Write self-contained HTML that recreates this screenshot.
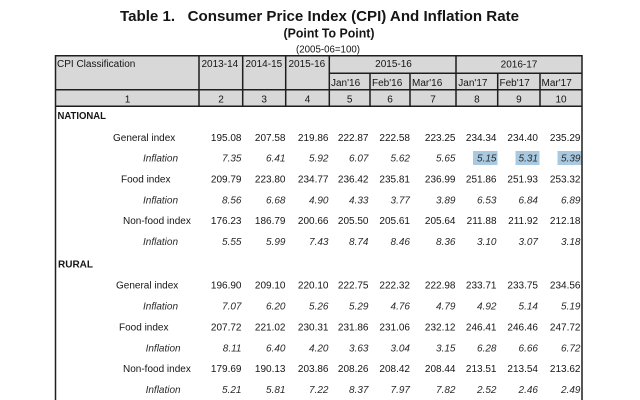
<!DOCTYPE html>
<html>
<head>
<meta charset="utf-8">
<style>
html,body{margin:0;padding:0;background:#fff;}
svg{display:block;}
text{font-family:"Liberation Sans",Arial,sans-serif;fill:#151515;}
.n{font-size:10px;text-anchor:end;}
.i{font-size:10px;text-anchor:end;font-style:italic;fill:#2a2a2a;}
.l{font-size:10px;}
.li{font-size:10px;font-style:italic;fill:#2a2a2a;}
.h{font-size:10px;}
.hc{font-size:10px;text-anchor:middle;}
.b{font-size:10px;font-weight:bold;}
</style>
</head>
<body>
<svg width="640" height="400" viewBox="0 0 640 400" xmlns="http://www.w3.org/2000/svg">
<rect x="0" y="0" width="640" height="400" fill="#fff"/>
<!-- Titles -->
<text x="120" y="21" style="font-size:15px;font-weight:bold;" xml:space="preserve" textLength="399" lengthAdjust="spacingAndGlyphs">Table 1.   Consumer Price Index (CPI) And Inflation Rate</text>
<text x="329" y="37.5" style="font-size:12.5px;font-weight:bold;text-anchor:middle;" textLength="91" lengthAdjust="spacingAndGlyphs">(Point To Point)</text>
<text x="328" y="52.5" style="font-size:10px;text-anchor:middle;" textLength="64" lengthAdjust="spacingAndGlyphs">(2005-06=100)</text>

<!-- Header fill -->
<rect x="55.5" y="55.7" width="526.5" height="50.6" fill="#d8d8d8"/>

<!-- Highlights -->
<rect x="473" y="151" width="24.5" height="14" fill="#a9c9e1"/>
<rect x="515.5" y="151" width="24" height="14" fill="#a9c9e1"/>
<rect x="557.5" y="151" width="24" height="14" fill="#a9c9e1"/>

<!-- Lines -->
<g stroke="#1e1e1e" stroke-width="1.5" fill="none">
<line x1="55.5" y1="55.7" x2="582" y2="55.7"/>
<line x1="329.3" y1="73.3" x2="582" y2="73.3"/>
<line x1="55.5" y1="89.7" x2="582" y2="89.7"/>
<line x1="55.5" y1="106.3" x2="582" y2="106.3"/>
<line x1="55.5" y1="55" x2="55.5" y2="400"/>
<line x1="582" y1="55" x2="582" y2="400"/>
<line x1="199" y1="55.7" x2="199" y2="106.3"/>
<line x1="242.7" y1="55.7" x2="242.7" y2="106.3"/>
<line x1="285.7" y1="55.7" x2="285.7" y2="106.3"/>
<line x1="329.3" y1="55.7" x2="329.3" y2="106.3"/>
<line x1="456" y1="55.7" x2="456" y2="106.3"/>
<line x1="370" y1="73.3" x2="370" y2="106.3"/>
<line x1="410" y1="73.3" x2="410" y2="106.3"/>
<line x1="497.7" y1="73.3" x2="497.7" y2="106.3"/>
<line x1="540" y1="73.3" x2="540" y2="106.3"/>
</g>

<!-- Header text -->
<text class="h" x="57" y="67">CPI Classification</text>
<text class="h" x="201.5" y="67">2013-14</text>
<text class="h" x="245.5" y="67">2014-15</text>
<text class="h" x="288.5" y="67">2015-16</text>
<text class="hc" x="393.5" y="67">2015-16</text>
<text class="hc" x="519" y="67.5">2016-17</text>
<text class="h" x="331" y="86">Jan'16</text>
<text class="h" x="372" y="86">Feb'16</text>
<text class="h" x="412" y="86">Mar'16</text>
<text class="h" x="458.3" y="86">Jan'17</text>
<text class="h" x="499.5" y="86">Feb'17</text>
<text class="h" x="541.5" y="86">Mar'17</text>
<text class="hc" x="127.5" y="102.3">1</text>
<text class="hc" x="221" y="102.3">2</text>
<text class="hc" x="264.2" y="102.3">3</text>
<text class="hc" x="307.5" y="102.3">4</text>
<text class="hc" x="349.7" y="102.3">5</text>
<text class="hc" x="390" y="102.3">6</text>
<text class="hc" x="433" y="102.3">7</text>
<text class="hc" x="476.9" y="102.3">8</text>
<text class="hc" x="518.9" y="102.3">9</text>
<text class="hc" x="561" y="102.3">10</text>

<!-- NATIONAL -->
<text class="b" x="57.5" y="118.8" textLength="48.5" lengthAdjust="spacingAndGlyphs">NATIONAL</text>

<text class="l" x="113" y="140.8">General index</text>
<text class="n" x="241.5" y="140.8">195.08</text><text class="n" x="285.5" y="140.8">207.58</text><text class="n" x="328.5" y="140.8">219.86</text><text class="n" x="368.5" y="140.8">222.87</text><text class="n" x="410" y="140.8">222.58</text><text class="n" x="455.5" y="140.8">223.25</text><text class="n" x="496.5" y="140.8">234.34</text><text class="n" x="538" y="140.8">234.40</text><text class="n" x="580.5" y="140.8">235.29</text>

<text class="li" x="143" y="161.6">Inflation</text>
<text class="i" x="241.5" y="161.6">7.35</text><text class="i" x="285.5" y="161.6">6.41</text><text class="i" x="328.5" y="161.6">5.92</text><text class="i" x="368.5" y="161.6">6.07</text><text class="i" x="410" y="161.6">5.62</text><text class="i" x="455.5" y="161.6">5.65</text><text class="i" x="496.5" y="161.6">5.15</text><text class="i" x="538" y="161.6">5.31</text><text class="i" x="580.5" y="161.6">5.39</text>

<text class="l" x="121" y="182.6">Food index</text>
<text class="n" x="241.5" y="182.6">209.79</text><text class="n" x="285.5" y="182.6">223.80</text><text class="n" x="328.5" y="182.6">234.77</text><text class="n" x="368.5" y="182.6">236.42</text><text class="n" x="410" y="182.6">235.81</text><text class="n" x="455.5" y="182.6">236.99</text><text class="n" x="496.5" y="182.6">251.86</text><text class="n" x="538" y="182.6">251.93</text><text class="n" x="580.5" y="182.6">253.32</text>

<text class="li" x="143" y="203.6">Inflation</text>
<text class="i" x="241.5" y="203.6">8.56</text><text class="i" x="285.5" y="203.6">6.68</text><text class="i" x="328.5" y="203.6">4.90</text><text class="i" x="368.5" y="203.6">4.33</text><text class="i" x="410" y="203.6">3.77</text><text class="i" x="455.5" y="203.6">3.89</text><text class="i" x="496.5" y="203.6">6.53</text><text class="i" x="538" y="203.6">6.84</text><text class="i" x="580.5" y="203.6">6.89</text>

<text class="l" x="123" y="224.2">Non-food index</text>
<text class="n" x="241.5" y="224.2">176.23</text><text class="n" x="285.5" y="224.2">186.79</text><text class="n" x="328.5" y="224.2">200.66</text><text class="n" x="368.5" y="224.2">205.50</text><text class="n" x="410" y="224.2">205.61</text><text class="n" x="455.5" y="224.2">205.64</text><text class="n" x="496.5" y="224.2">211.88</text><text class="n" x="538" y="224.2">211.92</text><text class="n" x="580.5" y="224.2">212.18</text>

<text class="li" x="143" y="245.2">Inflation</text>
<text class="i" x="241.5" y="245.2">5.55</text><text class="i" x="285.5" y="245.2">5.99</text><text class="i" x="328.5" y="245.2">7.43</text><text class="i" x="368.5" y="245.2">8.74</text><text class="i" x="410" y="245.2">8.46</text><text class="i" x="455.5" y="245.2">8.36</text><text class="i" x="496.5" y="245.2">3.10</text><text class="i" x="538" y="245.2">3.07</text><text class="i" x="580.5" y="245.2">3.18</text>

<!-- RURAL -->
<text class="b" x="58" y="267.4">RURAL</text>

<text class="l" x="116" y="288.6">General index</text>
<text class="n" x="241.5" y="288.6">196.90</text><text class="n" x="285.5" y="288.6">209.10</text><text class="n" x="328.5" y="288.6">220.10</text><text class="n" x="368.5" y="288.6">222.75</text><text class="n" x="410" y="288.6">222.32</text><text class="n" x="455.5" y="288.6">222.98</text><text class="n" x="496.5" y="288.6">233.71</text><text class="n" x="538" y="288.6">233.75</text><text class="n" x="580.5" y="288.6">234.56</text>

<text class="li" x="143" y="309.5">Inflation</text>
<text class="i" x="241.5" y="309.5">7.07</text><text class="i" x="285.5" y="309.5">6.20</text><text class="i" x="328.5" y="309.5">5.26</text><text class="i" x="368.5" y="309.5">5.29</text><text class="i" x="410" y="309.5">4.76</text><text class="i" x="455.5" y="309.5">4.79</text><text class="i" x="496.5" y="309.5">4.92</text><text class="i" x="538" y="309.5">5.14</text><text class="i" x="580.5" y="309.5">5.19</text>

<text class="l" x="119" y="330.5">Food index</text>
<text class="n" x="241.5" y="330.5">207.72</text><text class="n" x="285.5" y="330.5">221.02</text><text class="n" x="328.5" y="330.5">230.31</text><text class="n" x="368.5" y="330.5">231.86</text><text class="n" x="410" y="330.5">231.06</text><text class="n" x="455.5" y="330.5">232.12</text><text class="n" x="496.5" y="330.5">246.41</text><text class="n" x="538" y="330.5">246.46</text><text class="n" x="580.5" y="330.5">247.72</text>

<text class="li" x="145.6" y="351.5">Inflation</text>
<text class="i" x="241.5" y="351.5">8.11</text><text class="i" x="285.5" y="351.5">6.40</text><text class="i" x="328.5" y="351.5">4.20</text><text class="i" x="368.5" y="351.5">3.63</text><text class="i" x="410" y="351.5">3.04</text><text class="i" x="455.5" y="351.5">3.15</text><text class="i" x="496.5" y="351.5">6.28</text><text class="i" x="538" y="351.5">6.66</text><text class="i" x="580.5" y="351.5">6.72</text>

<text class="l" x="123" y="372.2">Non-food index</text>
<text class="n" x="241.5" y="372.2">179.69</text><text class="n" x="285.5" y="372.2">190.13</text><text class="n" x="328.5" y="372.2">203.86</text><text class="n" x="368.5" y="372.2">208.26</text><text class="n" x="410" y="372.2">208.42</text><text class="n" x="455.5" y="372.2">208.44</text><text class="n" x="496.5" y="372.2">213.51</text><text class="n" x="538" y="372.2">213.54</text><text class="n" x="580.5" y="372.2">213.62</text>

<text class="li" x="145.6" y="393">Inflation</text>
<text class="i" x="241.5" y="393">5.21</text><text class="i" x="285.5" y="393">5.81</text><text class="i" x="328.5" y="393">7.22</text><text class="i" x="368.5" y="393">8.37</text><text class="i" x="410" y="393">7.97</text><text class="i" x="455.5" y="393">7.82</text><text class="i" x="496.5" y="393">2.52</text><text class="i" x="538" y="393">2.46</text><text class="i" x="580.5" y="393">2.49</text>
</svg>
</body>
</html>
